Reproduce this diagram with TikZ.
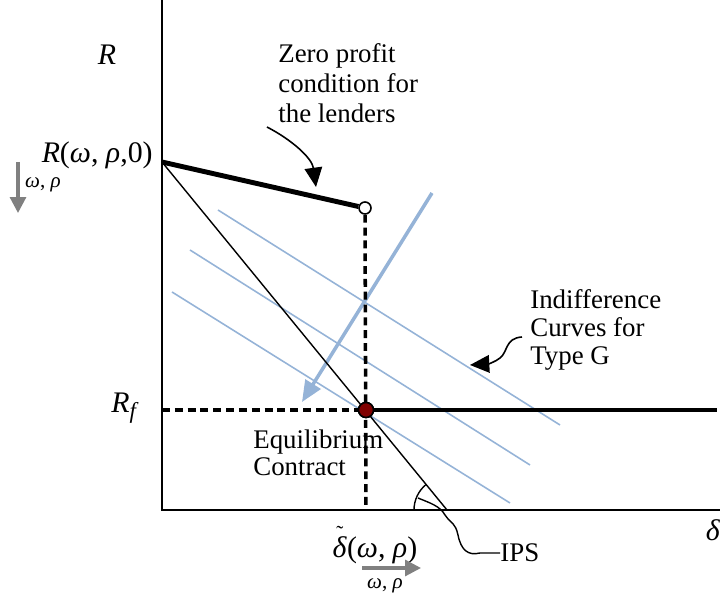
\documentclass[tikz,border=0pt]{standalone}
\usepackage{fontspec}
\setmainfont{Liberation Serif}
\usetikzlibrary{arrows.meta}
\definecolor{icblue}{RGB}{149,179,215}
\definecolor{eqred}{RGB}{128,0,0}
\newcommand{\vi}[1]{\textit{#1}}
\begin{document}
\begin{tikzpicture}[x=0.02cm, y=-0.02cm,
  axis/.style={line width=1.1pt},
  thickline/.style={line width=2.8pt},
  dashline/.style={line width=2pt, dash pattern=on 4.5pt off 2.8pt},
  icurve/.style={icblue, line width=0.9pt},
  greyarrow/.style={gray, line width=1.8pt, -{Triangle[length=9pt,width=9pt]}},
  lbl/.style={font=\fontsize{15.3}{17}\selectfont, inner sep=0pt},
  mlbl/.style={font=\fontsize{17}{19}\selectfont, inner sep=0pt},
  small/.style={font=\fontsize{12}{13}\selectfont, inner sep=0pt},
  pointer/.style={line width=0.9pt, -{Triangle[length=11pt,width=10pt]}}]
  \useasboundingbox (0,0) rectangle (724,597);

  % axes and reference points
  \coordinate (top)   at (162,0);
  \coordinate (orig)  at (162,510);
  \coordinate (dend)  at (720,510);
  \coordinate (r0)    at (162,162);
  \coordinate (rf)    at (162,410);
  \coordinate (rfend) at (717,410);
  \coordinate (dtil)  at (366,510);
  \coordinate (ipsx)  at (447,510);

  % indifference curves
  \coordinate (ic1a) at (218,210); \coordinate (ic1b) at (560,425);
  \coordinate (ic2a) at (190,250); \coordinate (ic2b) at (530,465);
  \coordinate (ic3a) at (172,292); \coordinate (ic3b) at (510,503);
  \draw[icurve] (ic1a) -- (ic1b);
  \draw[icurve] (ic2a) -- (ic2b);
  \draw[icurve] (ic3a) -- (ic3b);
  \coordinate (shiftA) at (432,193);
  \coordinate (shiftB) at (302,402);
  \draw[icblue, line width=2pt, -{Triangle[length=12pt,width=10pt]}]
    (shiftA) -- (shiftB);

  \draw[axis] (top) -- (orig) -- (dend);

  \node (zpdot) [circle, draw, fill=white, line width=0.9pt,
                 minimum size=0.24cm, inner sep=0pt] at (365,208) {};
  \node (eqdot) [circle, draw, fill=eqred, line width=0.9pt,
                 minimum size=0.3cm, inner sep=0pt] at (366,410) {};

  \draw[line width=0.8pt] (r0) -- (ipsx);
  \draw[thickline] (r0) -- (zpdot);
  \draw[dashline] (zpdot) -- (dtil);
  \draw[dashline] (rf) -- (eqdot);
  \draw[thickline] (eqdot) -- (rfend);
  \node[circle, draw, fill=eqred, line width=0.9pt,
        minimum size=0.3cm, inner sep=0pt] at (eqdot) {};

  % angle mark of the IPS line
  \draw[line width=0.8pt] (ipsx) ++(180:33) arc[start angle=180, end angle=231, radius=33];

  % labels
  \node (rlab)  [mlbl] at (107,55) {\vi{R}};
  \node (r0lab) [mlbl, anchor=east] at (153,155) {\vi{R}(\vi{ω}, \vi{ρ},0)};
  \node (rflab) [mlbl] at (125,408) {\vi{R}\raisebox{-0.45ex}{\fontsize{13}{13}\selectfont\vi{f}}};
  \node (dlab)  [mlbl] at (713,530) {\vi{δ}};
  \node (dtlab) [mlbl] at (375,545)
        {\makebox[0pt][l]{\hspace{0.12em}\raisebox{0.55em}{\fontsize{12}{12}\selectfont ˜}}\vi{δ}(\vi{ω}, \vi{ρ})};
  \node (ipslab) [lbl, anchor=west] at (500,553) {IPS};
  \node (zplab) [lbl, align=left, anchor=west] at (278,83)
                {Zero profit\\condition for\\the lenders};
  \node (iclab) [lbl, align=left, anchor=west,
                 font=\fontsize{15.3}{15.9}\selectfont] at (530,330)
                {Indifference\\Curves for\\Type G};
  \node (eqlab) [lbl, align=left, anchor=west,
                 font=\fontsize{15.3}{15.3}\selectfont] at (253,453)
                {Equilibrium\\Contract};

  % comparative statics arrows
  \coordinate (da1) at (18,162);
  \coordinate (da2) at (18,213);
  \draw[greyarrow] (da1) -- (da2);
  \node (dalab) [small] at (43,185) {\vi{ω}, \vi{ρ}};
  \coordinate (ra1) at (362,568);
  \coordinate (ra2) at (421,568);
  \draw[greyarrow] (ra1) -- (ra2);
  \node (ralab) [small] at (385,586) {\vi{ω}, \vi{ρ}};

  % pointers
  \coordinate (zptail) at (267,127);
  \coordinate (zptip)  at (316,187);
  \draw[pointer] (zptail) .. controls (292,140) and (312,158) .. (zptip);
  \coordinate (ictail) at (522,337);
  \coordinate (ictip)  at (470,365);
  \draw[pointer] (ictail) .. controls (505,338) and (508,352) .. (500,358)
                 .. controls (495,362) and (488,364) .. (ictip);
  \coordinate (ipsfoot) at (418,498);
  \draw[line width=0.8pt] (ipsfoot) .. controls (430,503) and (440,506) .. (445,515)
        .. controls (452,525) and (455,522) .. (458,535)
        .. controls (461,550) and (468,556) .. (480,553) -- (ipslab.west);
\end{tikzpicture}
\end{document}
